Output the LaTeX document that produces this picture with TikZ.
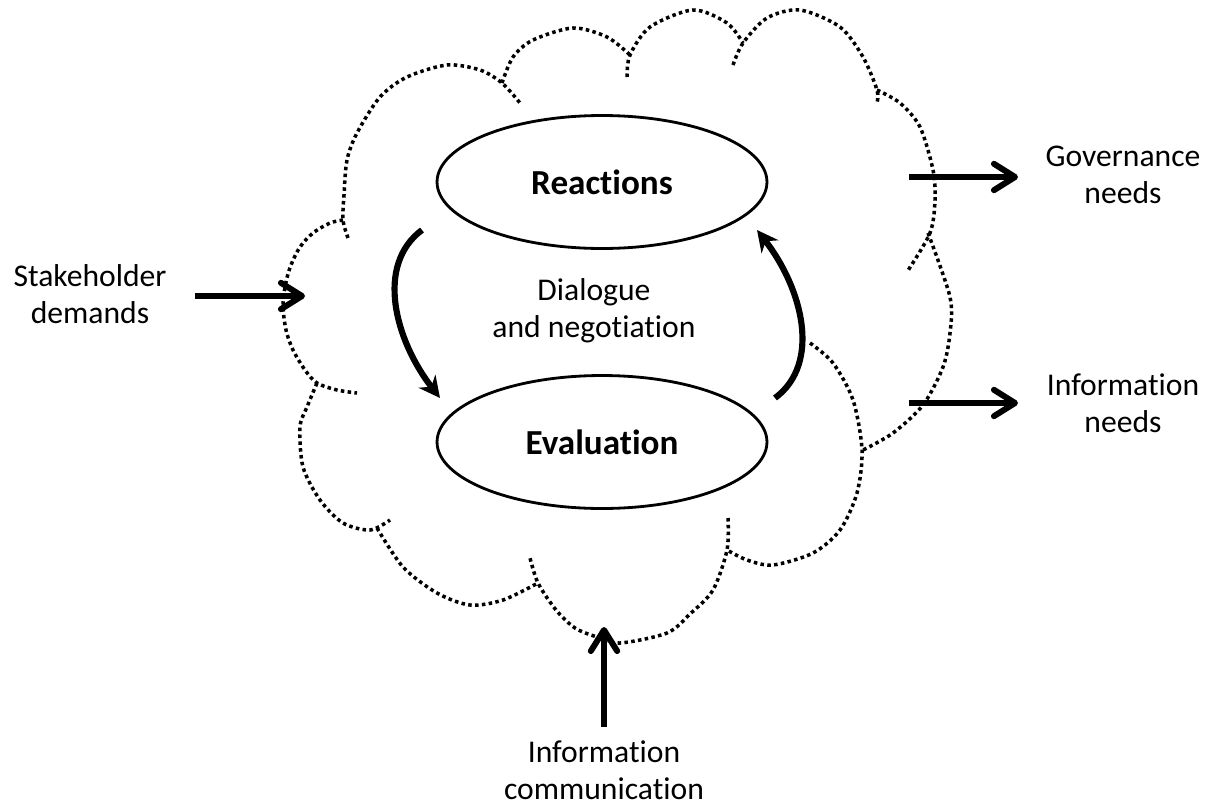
\documentclass[tikz,border=0pt]{standalone}
\usepackage{fontspec}
\setmainfont{Carlito}[Ligatures=NoCommon]
\usetikzlibrary{arrows.meta,shapes.geometric}
\begin{document}
\begin{tikzpicture}[x=0.02cm,y=-0.02cm,
  lobe/.style={line width=2pt, dash pattern=on 2pt off 1.9pt},
  stagebox/.style={ellipse, draw, line width=1.6pt, minimum width=6.6cm,
    minimum height=2.66cm, inner sep=0pt,
    font={\fontsize{20pt}{24pt}\selectfont\bfseries}},
  lbl/.style={align=center, inner sep=0pt,
    font={\fontsize{18pt}{21pt}\selectfont}},
  flow/.style={line width=3.4pt, -{Straight Barb[length=12pt,width=15pt,round]}},
  turn/.style={line width=3.5pt, -{Stealth[length=12pt,width=12pt]}}
]
\useasboundingbox (0,0) rectangle (1216,808);

% cloud outline, one dotted arc per lobe
\draw[lobe] plot[smooth] coordinates {(343,220) (330,223) (313,233) (300,247) (291,265) (286,282) (283,305) (286,330) (293,350) (305,370) (317,383) (337,390) (357,393)};
\draw[lobe] plot[smooth] coordinates {(348,238) (343,220) (344,195) (347,160) (357,133) (380,97) (407,77) (447,65) (480,70) (502,83) (520,103)};
\draw[lobe] plot[smooth] coordinates {(502,83) (513,57) (533,40) (573,28) (607,37) (630,55)};
\draw[lobe] plot[smooth] coordinates {(627,77) (630,55) (650,27) (693,10) (727,23) (743,43)};
\draw[lobe] plot[smooth] coordinates {(733,65) (743,43) (767,18) (800,10) (840,27) (863,57) (877,90) (877,103)};
\draw[lobe] plot[smooth] coordinates {(877,90) (900,103) (920,127) (933,170) (935,200) (930,233) (907,272)};
\draw[lobe] plot[smooth] coordinates {(928,233) (950,297) (950,333) (943,367) (923,405) (893,433) (863,450)};
\draw[lobe] plot[smooth] coordinates {(810,343) (833,363) (853,400) (862,450) (857,493) (840,530) (813,553) (773,565) (747,560) (727,550)};
\draw[lobe] plot[smooth] coordinates {(728,518) (727,550) (713,590) (690,614) (667,633) (620,643) (597,637) (575,628) (556,610) (538,583) (530,558)};
\draw[lobe] plot[smooth] coordinates {(377,528) (403,567) (437,593) (470,605) (503,600) (538,583)};
\draw[lobe] plot[smooth] coordinates {(317,383) (307,407) (300,427) (303,467) (320,500) (343,523) (370,530) (390,520)};

% the two stages
\node[stagebox] (react) at (602,182) {Reactions};
\node[stagebox] (eval) at (602,442) {Evaluation};
\node[lbl] (dialogue) at (594,311) {Dialogue\\and negotiation};

% cycle between the stages
\coordinate (reactOut) at (422,230);
\coordinate (evalIn) at (440,398);
\coordinate (evalOut) at (775,398);
\coordinate (reactIn) at (757,230);
\draw[turn] (reactOut) .. controls (375,265) and (395,340) .. (evalIn);
\draw[turn] (evalOut) .. controls (822,363) and (802,288) .. (reactIn);

% inputs and outputs
\node[lbl] (stake) at (90,294) {Stakeholder\\demands};
\node[lbl] (gov) at (1123,175) {Governance\\needs};
\node[lbl] (infoneeds) at (1123,403) {Information\\needs};
\node[lbl] (infocomm) at (604,770) {Information\\communication};

\coordinate (stakeTail) at (195,296);
\coordinate (stakeHead) at (305,296);
\coordinate (govTail) at (909,177);
\coordinate (govHead) at (1018,177);
\coordinate (needsTail) at (909,403);
\coordinate (needsHead) at (1018,403);
\coordinate (commTail) at (604,727);
\coordinate (commHead) at (604,627);
\draw[flow] (stakeTail) -- (stakeHead);
\draw[flow] (govTail) -- (govHead);
\draw[flow] (needsTail) -- (needsHead);
\draw[flow] (commTail) -- (commHead);
\end{tikzpicture}
\end{document}
